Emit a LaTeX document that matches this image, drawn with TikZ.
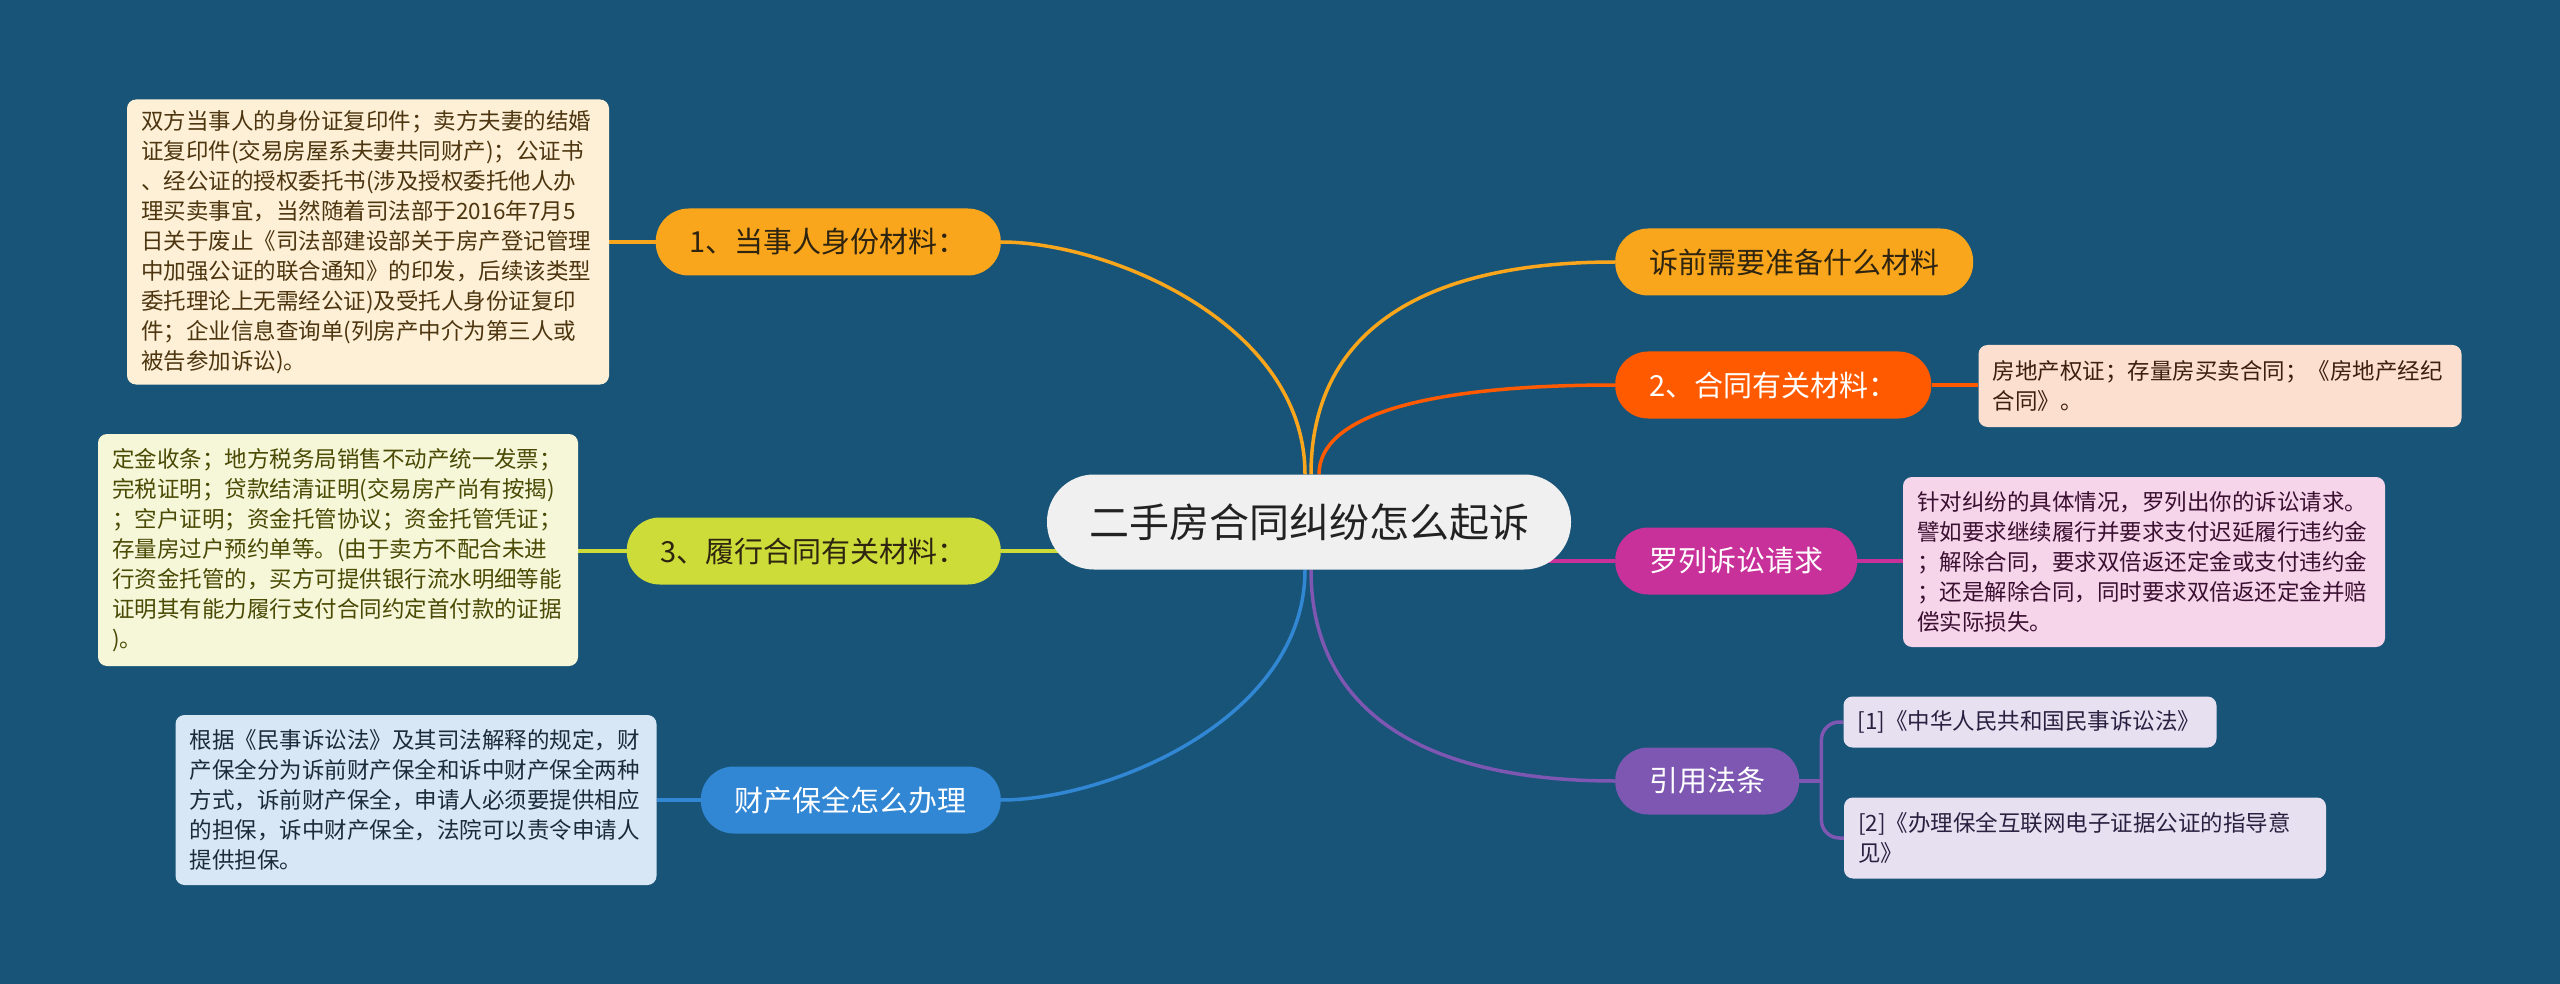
\documentclass[tikz,border=0pt]{standalone}
\usepackage{fontspec}
\newfontfamily\zhfont{Noto Sans CJK SC}
\usetikzlibrary{calc}

\definecolor{sea}{HTML}{185477}
\definecolor{hubfill}{HTML}{F0F0F0}
\definecolor{hubink}{HTML}{222222}
\definecolor{amber}{HTML}{F9A61C}
\definecolor{tangerine}{HTML}{FF5A00}
\definecolor{lime}{HTML}{CDDC39}
\definecolor{berry}{HTML}{C8309A}
\definecolor{grape}{HTML}{7D57B2}
\definecolor{sky}{HTML}{3187D3}
\definecolor{darkink}{HTML}{2E2410}
\definecolor{creamfill}{HTML}{FDF0D6}
\definecolor{creamink}{HTML}{4D3510}
\definecolor{olivefill}{HTML}{F6F7D9}
\definecolor{oliveink}{HTML}{4A4A05}
\definecolor{skyfill}{HTML}{D7E7F6}
\definecolor{skyink}{HTML}{1C2B3A}
\definecolor{peachfill}{HTML}{FDDFD0}
\definecolor{peachink}{HTML}{3D1F10}
\definecolor{pinkfill}{HTML}{F6D5EB}
\definecolor{pinkink}{HTML}{3A1030}
\definecolor{lilacfill}{HTML}{E6E0F1}
\definecolor{lilacink}{HTML}{2B2040}

\pgfdeclarelayer{paper}
\pgfdeclarelayer{links}
\pgfsetlayers{paper,links,main}

\begin{document}
\begin{tikzpicture}[x=1pt,y=-1pt,
  hub/.style={fill=hubfill, text=hubink, rounded corners=47pt,
    minimum width=524pt, minimum height=95pt,
    font=\zhfont\fontsize{40}{40}\selectfont},
  branch/.style={rounded corners=33pt, minimum height=67pt, inner xsep=34pt,
    font=\zhfont\fontsize{29}{29}\selectfont},
  leaf/.style={rounded corners=9pt, inner xsep=14pt, inner ysep=0pt, align=left,
    font=\zhfont\fontsize{22.5}{30}\selectfont},
  link/.style={line width=3.5pt}]

  \useasboundingbox (0,0) rectangle (2560,984);
  \begin{pgfonlayer}{paper}
    \fill[sea] (0,0) rectangle (2560,984);
  \end{pgfonlayer}

  \node[hub] (hub) at (1309,522) {二手房合同纠纷怎么起诉};

  \node[branch, fill=amber, text=darkink, anchor=east] (mat1) at (1001,242) {1、当事人身份材料：};
  \node[branch, fill=lime, text=darkink, anchor=east] (mat3) at (1001,551) {3、履行合同有关材料：};
  \node[branch, fill=sky, text=white, anchor=east] (guard) at (1001,800) {财产保全怎么办理};
  \node[branch, fill=amber, text=darkink, anchor=west] (prep) at (1615,262) {诉前需要准备什么材料};
  \node[branch, fill=tangerine, text=white, anchor=west] (mat2) at (1615,385) {2、合同有关材料：};
  \node[branch, fill=berry, text=white, anchor=west] (claim) at (1615,561) {罗列诉讼请求};
  \node[branch, fill=grape, text=white, anchor=west] (law) at (1615,781) {引用法条};

  \node[leaf, fill=creamfill, text=creamink, text width=454pt, minimum height=285pt] (mat1txt) at (368,242)
    {双方当事人的身份证复印件；卖方夫妻的结婚\\
     证复印件(交易房屋系夫妻共同财产)；公证书\\
     、经公证的授权委托书(涉及授权委托他人办\\
     理买卖事宜，当然随着司法部于2016年7月5\\
     日关于废止《司法部建设部关于房产登记管理\\
     中加强公证的联合通知》的印发，后续该类型\\
     委托理论上无需经公证)及受托人身份证复印\\
     件；企业信息查询单(列房产中介为第三人或\\
     被告参加诉讼)。};
  \node[leaf, fill=olivefill, text=oliveink, text width=452pt, minimum height=232pt] (mat3txt) at (338,550)
    {定金收条；地方税务局销售不动产统一发票；\\
     完税证明；贷款结清证明(交易房产尚有按揭)\\
     ；空户证明；资金托管协议；资金托管凭证；\\
     存量房过户预约单等。(由于卖方不配合未进\\
     行资金托管的，买方可提供银行流水明细等能\\
     证明其有能力履行支付合同约定首付款的证据\\
     )。};
  \node[leaf, fill=skyfill, text=skyink, text width=453pt, minimum height=170pt] (guardtxt) at (416,800)
    {根据《民事诉讼法》及其司法解释的规定，财\\
     产保全分为诉前财产保全和诉中财产保全两种\\
     方式，诉前财产保全，申请人必须要提供相应\\
     的担保，诉中财产保全，法院可以责令申请人\\
     提供担保。};
  \node[leaf, fill=peachfill, text=peachink, text width=455pt, minimum height=82pt] (mat2txt) at (2220,386)
    {房地产权证；存量房买卖合同；《房地产经纪\\
     合同》。};
  \node[leaf, fill=pinkfill, text=pinkink, text width=454pt, minimum height=170pt] (claimtxt) at (2144,562)
    {针对纠纷的具体情况，罗列出你的诉讼请求。\\
     譬如要求继续履行并要求支付迟延履行违约金\\
     ；解除合同，要求双倍返还定金或支付违约金\\
     ；还是解除合同，同时要求双倍返还定金并赔\\
     偿实际损失。};
  \node[leaf, fill=lilacfill, text=lilacink, text width=345pt, minimum height=51pt] (law1) at (2030,722)
    {[1]《中华人民共和国民事诉讼法》};
  \node[leaf, fill=lilacfill, text=lilacink, text width=454pt, minimum height=81pt] (law2) at (2085,838)
    {[2]《办理保全互联网电子证据公证的指导意\\
     见》};
  \coordinate (fork) at ([xshift=22pt]law.east);

  \begin{pgfonlayer}{links}
    \draw[link, amber] ([xshift=-4pt]hub.north) .. controls ([xshift=-4pt,yshift=151pt]hub.north)
      and ([xshift=107pt]mat1.east) .. (mat1.east);
    \draw[link, amber] ([xshift=2pt]hub.north) .. controls ([xshift=2pt,yshift=138pt]hub.north)
      and ([xshift=-200pt]prep.west) .. (prep.west);
    \draw[link, tangerine] ([xshift=10pt]hub.north) .. controls ([xshift=10pt,yshift=58pt]hub.north)
      and ([xshift=-192pt]mat2.west) .. (mat2.west);
    \draw[link, sky] ([xshift=-4pt]hub.south) .. controls ([xshift=-4pt,yshift=-150pt]hub.south)
      and ([xshift=106pt]guard.east) .. (guard.east);
    \draw[link, grape] ([xshift=2pt]hub.south) .. controls ([xshift=2pt,yshift=-137pt]hub.south)
      and ([xshift=-198pt]law.west) .. (law.west);
    \draw[link, lime] (mat3.east) -- (hub.center |- mat3.east);
    \draw[link, berry] (hub.center |- claim.west) -- (claim.west);

    \foreach \src/\dst/\col in {mat1/mat1txt/amber, mat3/mat3txt/lime, guard/guardtxt/sky} {
      \draw[link, \col] (\src.west) -- (\dst.east |- \src.west);
    }
    \foreach \src/\dst/\col in {mat2/mat2txt/tangerine, claim/claimtxt/berry} {
      \draw[link, \col] (\src.east) -- (\dst.west |- \src.east);
    }
    \draw[link, grape] (law.east) -- (fork);
    \draw[link, grape, rounded corners=18pt] (law1.west) -| (fork) |- (law2.west);
  \end{pgfonlayer}
\end{tikzpicture}
\end{document}
